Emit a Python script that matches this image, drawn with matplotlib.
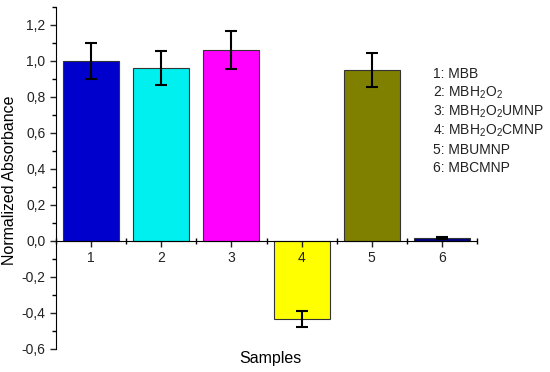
import numpy as np
import matplotlib.pyplot as plt
from matplotlib.ticker import MultipleLocator, FixedLocator

plt.rcParams['font.family'] = ['Liberation Sans', 'DejaVu Sans']
plt.rcParams['mathtext.fontset'] = 'custom'
plt.rcParams['mathtext.rm'] = 'Liberation Sans'
plt.rcParams['mathtext.it'] = 'Liberation Sans'

samples = [1, 2, 3, 4, 5, 6]
absorbance = [1.0, 0.96, 1.06, -0.435, 0.95, 0.015]
errors = [0.10, 0.095, 0.105, 0.045, 0.095, 0.005]
colors = ['#0000CC', '#00F0F0', '#FF00FF', '#FFFF00', '#808000', '#000080']
legend_lines = ['1: MBB', '2: MBH$_2$O$_2$', '3: MBH$_2$O$_2$UMNP',
                '4: MBH$_2$O$_2$CMNP', '5: MBUMNP', '6: MBCMNP']

fig = plt.figure(figsize=(5.5, 3.72), dpi=100)
ax = fig.add_axes([56/550, 23/372, (477-56)/550, (349-7)/372])

ax.bar(samples, absorbance, width=0.8, color=colors, edgecolor='#333333', linewidth=0.8,
       yerr=errors, error_kw=dict(ecolor='black', elinewidth=1.5, capsize=4, capthick=1.5))

ax.set_xlim(0.5, 6.5)
ax.set_ylim(-0.6, 1.3)
ax.spines['top'].set_visible(False)
ax.spines['right'].set_visible(False)
ax.spines['bottom'].set_position(('data', 0))
ax.spines['left'].set_bounds(-0.6, 1.3)

ax.set_xticks(samples)
ax.xaxis.set_minor_locator(FixedLocator([0.5, 1.5, 2.5, 3.5, 4.5, 5.5, 6.5]))
ax.yaxis.set_major_locator(MultipleLocator(0.2))
ax.yaxis.set_minor_locator(MultipleLocator(0.1))
ax.yaxis.set_major_formatter(plt.FuncFormatter(lambda v, p: f'{v:.1f}'.replace('.', ',').replace('-0,0', '0,0')))
ax.tick_params(axis='both', which='major', direction='out', length=4, width=1, labelsize=10, colors='#222222')
ax.tick_params(axis='x', which='minor', direction='inout', length=4, width=1)
ax.tick_params(axis='y', which='minor', direction='out', length=3, width=1)

fig.text(10/550, 1 - 180/372, 'Normalized Absorbance', rotation=90, ha='center', va='center', fontsize=11.5)
fig.text(270/550, 1 - 358/372, 'Samples', ha='center', va='center', fontsize=11.5)

for i, s in enumerate(legend_lines):
    fig.text(433/550, 1 - (74 + i*18.9)/372, s, fontsize=10, va='center', ha='left', color='#222222')

fig.savefig('out.png', dpi=100)
